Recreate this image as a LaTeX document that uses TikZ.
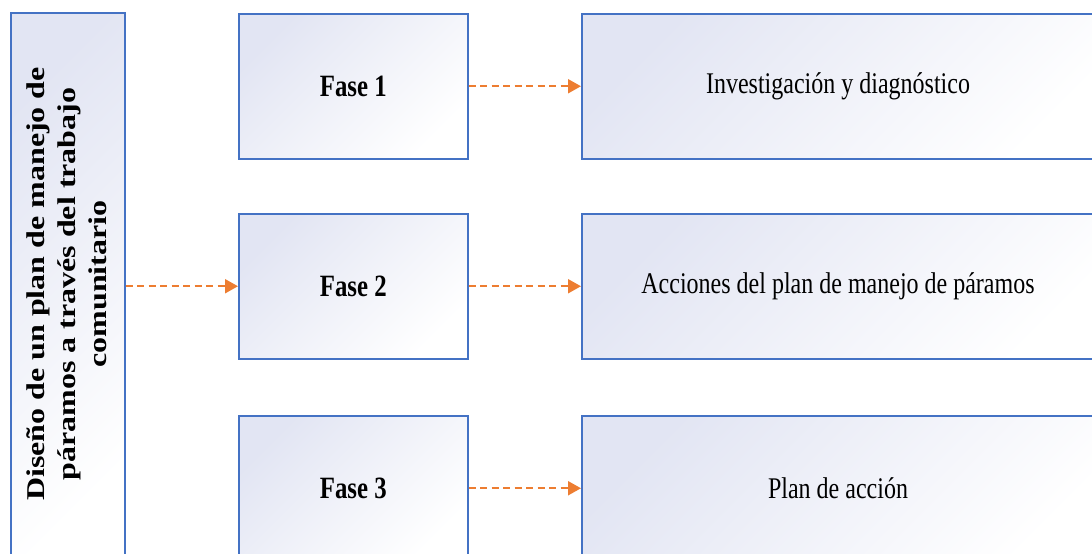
\documentclass[tikz,border=0pt]{standalone}
\usepackage{fontspec}
\setmainfont{Liberation Serif}
\usetikzlibrary{arrows.meta}
\definecolor{bordc}{HTML}{4472C4}
\definecolor{arrc}{HTML}{ED7D31}
\definecolor{shadc}{HTML}{E2E5F3}
\newcommand{\hsq}[1]{\scalebox{0.8}[1]{#1}}
\begin{document}
\begin{tikzpicture}[x=1pt,y=-1pt,
  box/.style={draw=bordc,line width=1.5pt,top color=shadc,bottom color=white,shading angle=45,inner sep=0pt},
  phase/.style={box,minimum width=229pt,minimum height=145pt,font=\fontsize{31}{36}\selectfont\bfseries},
  result/.style={box,minimum width=530pt,minimum height=145pt},
  rtext/.style={font=\fontsize{30}{36}\selectfont},
  conn/.style={arrc,line width=2pt,dash pattern=on 7pt off 4.5pt,-{Triangle[length=13pt,width=14pt]}}]
\useasboundingbox (0,0) rectangle (1092,554);
\node[box,minimum width=114pt,minimum height=548pt,anchor=north west] (main) at (10,12) {};
\node[rotate=90,inner sep=0pt] (mt) at (69,284) {\scalebox{1}[0.8]{\fontsize{32}{39}\selectfont\bfseries\begin{tabular}{@{}c@{}}Diseño de un plan de manejo de\\páramos a través del trabajo\\comunitario\end{tabular}}};
\node[phase,anchor=north west] (f1) at (238,13) {\hsq{Fase 1}};
\node[phase,anchor=north west] (f2) at (238,213) {\hsq{Fase 2}};
\node[phase,anchor=north west] (f3) at (238,415) {\hsq{Fase 3}};
\node[result,anchor=north west] (r1) at (581,13) {};
\node[result,anchor=north west] (r2) at (581,213) {};
\node[result,anchor=north west] (r3) at (581,415) {};
\node[rtext] (t1) at (838,86) {\hsq{Investigación y diagnóstico}};
\node[rtext] (t2) at (838,286) {\hsq{Acciones del plan de manejo de páramos}};
\node[rtext] (t3) at (838,488) {\hsq{Plan de acción}};
\draw[conn] (main.east |- f2.west) -- (f2.west);
\draw[conn] (f1.east) -- (r1.west);
\draw[conn] (f2.east) -- (r2.west);
\draw[conn] (f3.east) -- (r3.west);
\end{tikzpicture}
\end{document}
